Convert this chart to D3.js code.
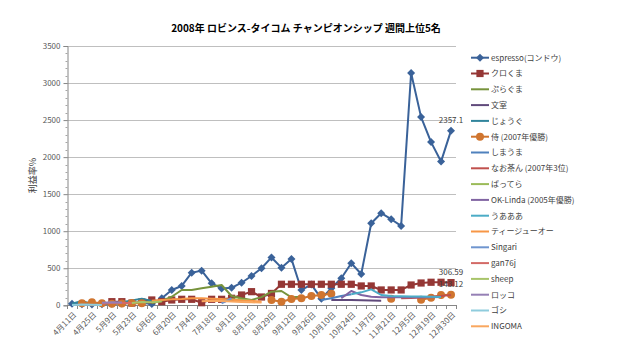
<!DOCTYPE html>
<html lang="ja">
<head>
<meta charset="utf-8">
<title>2008年 ロビンス-タイコム チャンピオンシップ 週間上位5名</title>
<script src="https://d3js.org/d3.v7.min.js"></script>
<style>
  body { margin: 0; background: #fff; }
  text { font-family: "Noto Sans CJK JP", "Noto Sans", sans-serif; }
  .title { font-size: 10px; font-weight: bold; fill: #000; }
  .axis text { font-size: 8px; fill: #595959; }
  .legend text { font-size: 8px; fill: #404040; }
  .dlabel { font-size: 8px; fill: #404040; }
</style>
</head>
<body>
<div id="chart"></div>
<script>
// categories (weekly)
const weeks = ["4月11日","4月18日","4月25日","5月2日","5月9日","5月16日","5月23日","5月30日",
  "6月6日","6月13日","6月20日","6月27日","7月4日","7月11日","7月18日","7月25日",
  "8月1日","8月8日","8月15日","8月22日","8月29日","9月5日","9月12日","9月19日",
  "9月26日","10月3日","10月10日","10月17日","10月24日","10月31日","11月7日","11月14日",
  "11月21日","11月28日","12月5日","12月12日","12月19日","12月26日","12月30日"];
const yTicks = [0, 500, 1000, 1500, 2000, 2500, 3000, 3500];

const _ = null;
const espresso = [20,15,10,15,20,25,30,35,18,95,207,261,440,468,297,227,236,305,396,500,646,508,626,207,280,90,230,365,568,423,1108,1243,1162,1072,3135,2540,2203,1940,2357.1];
const kurokuma = [_,_,_,_,49,49,30,45,72,49,72,81,81,35,81,81,95,139,184,112,160,284,284,284,284,284,284,284,284,261,261,207,207,207,274,301,311,311,306.59];
const puraguma = [_,_,_,_,_,_,_,_,30,60,116,207,207,230,251,274,126,95,72,110,184,193,108,116,_,_,_,_,_,_,_,_,_,_,_,_,_,_,_];
const bunmuro  = [_,_,_,_,35,40,45,_,_,_,_,_,_,_,_,_,_,_,_,_,_,_,_,_,_,_,72,72,70,68,65,62,_,_,_,_,_,_,_];
const jougu    = [20,60,15,10,20,40,65,90,60,_,_,_,_,_,_,_,_,_,_,_,_,_,_,_,_,_,_,_,_,_,_,_,_,_,_,_,_,_,_];
const samurai  = [_,27,40,27,20,25,30,27,_,_,_,_,_,_,_,_,_,_,_,_,72,49,85,95,126,139,155,_,_,_,_,_,90,_,_,76,103,139,143.12];
const shimauma = [_,_,_,_,_,_,_,_,_,_,_,_,_,_,_,_,_,_,_,_,_,_,_,_,_,72,95,126,150,_,_,_,_,_,_,_,_,_,_];
const naocha   = [_,_,_,_,_,_,_,_,_,_,_,_,_,_,_,_,_,_,_,_,_,_,_,_,_,_,_,_,_,_,_,_,_,95,100,105,115,125,139];
const battera  = [_,_,_,_,_,_,_,_,_,_,_,_,_,_,_,70,80,75,60,_,_,_,_,_,_,_,_,_,_,_,_,_,_,_,_,_,_,_,_];
const oklinda  = [_,_,_,_,_,_,_,_,_,_,_,_,_,_,_,_,_,_,_,_,_,_,_,_,_,_,_,95,193,139,116,110,110,108,108,110,110,112,_];
const uaaa     = [_,_,_,_,_,_,_,_,_,_,_,_,_,_,_,_,_,_,_,_,_,_,_,_,_,_,_,_,150,175,215,139,125,122,120,118,115,112,_];
const tjo      = [_,_,_,_,_,_,_,_,60,70,80,85,95,95,90,85,75,65,60,49,_,_,_,_,_,_,_,_,_,_,_,_,_,_,_,_,_,_,_];
const singari  = [_,_,_,_,_,_,_,_,_,_,_,_,_,_,_,25,95,_,_,_,_,_,_,_,_,_,_,_,_,_,_,_,_,_,_,_,_,_,_];
const gan76j   = [_,_,_,20,30,35,30,_,_,_,_,_,_,_,_,_,_,_,_,_,_,_,_,_,_,_,_,_,_,_,_,_,_,_,_,_,_,_,_];
const sheep    = [_,_,_,_,_,_,30,45,40,50,_,_,_,_,_,_,_,_,_,_,_,_,_,_,_,_,_,_,_,_,_,_,_,_,_,_,_,_,_];
const rokko    = [_,_,_,35,40,38,_,_,_,_,_,_,_,_,_,_,_,_,_,_,_,_,_,_,_,_,_,_,_,_,_,_,_,_,_,_,_,_,_];
const goshi    = [5,10,8,5,_,_,_,_,_,_,_,_,_,_,_,_,_,_,_,_,_,_,_,_,_,_,_,_,_,_,_,_,_,_,_,_,_,_,_];
const ingoma   = [_,_,_,_,_,_,_,_,_,_,_,_,_,55,60,58,50,45,40,38,_,_,_,_,_,_,_,_,_,_,_,_,_,_,_,_,_,_,_];

const seriesNames = ["espresso(コンドウ)","クロくま","ぷらぐま","文室","じょうぐ","侍 (2007年優勝)","しまうま",
  "なお茶ん (2007年3位)","ばってら","OK-Linda (2005年優勝)","うあああ","ティージューオー","Singari",
  "gan76j","sheep","ロッコ","ゴシ","INGOMA"];
const seriesValues = [espresso,kurokuma,puraguma,bunmuro,jougu,samurai,shimauma,naocha,battera,
  oklinda,uaaa,tjo,singari,gan76j,sheep,rokko,goshi,ingoma];
const seriesColors = ["#3A6299","#953735","#77933C","#604A7B","#31859C","#D0752F","#4F81BD",
  "#C0504D","#9BBB59","#8064A2","#4BACC6","#F79646","#6F95CF","#D36A66","#A8C46A","#9580B5","#8FCCDD","#F9A75F"];
const seriesMarkers = ["diamond","square",null,null,null,"circle",null,null,null,null,null,null,null,null,null,null,null,null];

const W = 626, H = 351;
const plot = { left: 67, right: 456, top: 46, bottom: 305.3 };

const svg = d3.select("#chart").append("svg")
  .attr("width", W).attr("height", H)
  .attr("viewBox", `0 0 ${W} ${H}`);
svg.append("rect").attr("width", W).attr("height", H).attr("fill", "#fff");

const x = d3.scaleBand().domain(weeks).range([plot.left, plot.right]);
const y = d3.scaleLinear().domain([0, 3500]).range([plot.bottom, plot.top]);
const cx = i => x(weeks[i]) + x.bandwidth() / 2;

// title
svg.append("text").attr("class", "title")
  .attr("x", 306).attr("y", 32).attr("text-anchor", "middle")
  .text("2008年  ロビンス-タイコム  チャンピオンシップ 週間上位5名");

// gridlines
svg.append("g").selectAll("line").data(yTicks.slice(1)).join("line")
  .attr("x1", plot.left).attr("x2", plot.right)
  .attr("y1", d => Math.round(y(d)) + 0.5).attr("y2", d => Math.round(y(d)) + 0.5)
  .attr("stroke", "#BFBFBF").attr("stroke-width", 1);

// y axis
const yAxis = svg.append("g").attr("class", "axis")
  .attr("transform", `translate(${plot.left + 0.5},0)`)
  .call(d3.axisLeft(y).tickValues(yTicks).tickSize(4).tickPadding(3).tickFormat(d3.format("d")));
yAxis.select(".domain").attr("stroke", "#868686");
yAxis.selectAll(".tick line").attr("stroke", "#868686");
// minor ticks
svg.append("g").selectAll("line").data(d3.range(100, 3500, 100).filter(v => v % 500 !== 0)).join("line")
  .attr("x1", plot.left - 1.5).attr("x2", plot.left + 0.5)
  .attr("y1", d => Math.round(y(d)) + 0.5).attr("y2", d => Math.round(y(d)) + 0.5)
  .attr("stroke", "#A6A6A6");

svg.append("text")
  .attr("transform", `translate(36,${(plot.top + plot.bottom) / 2}) rotate(-90)`)
  .attr("text-anchor", "middle").attr("font-size", 9).attr("fill", "#404040")
  .text("利益率%");

// x axis
const xg = svg.append("g").attr("class", "axis");
xg.append("line")
  .attr("x1", plot.left).attr("x2", plot.right)
  .attr("y1", Math.round(plot.bottom) + 0.5).attr("y2", Math.round(plot.bottom) + 0.5)
  .attr("stroke", "#868686");
xg.selectAll("line.tk").data(d3.range(weeks.length + 1)).join("line").attr("class", "tk")
  .attr("x1", i => Math.round(plot.left + i * x.step()) + 0.5)
  .attr("x2", i => Math.round(plot.left + i * x.step()) + 0.5)
  .attr("y1", Math.round(plot.bottom)).attr("y2", Math.round(plot.bottom) + 4)
  .attr("stroke", "#868686");
xg.selectAll("text").data(weeks.filter((d, i) => i % 2 === 0)).join("text")
  .attr("transform", d => `translate(${x(d) + x.bandwidth() / 2 + 3},${plot.bottom + 8}) rotate(-45)`)
  .attr("text-anchor", "end").attr("dy", "0.35em")
  .text(d => d);

// series
const line = d3.line()
  .defined(d => d.v !== null)
  .x(d => cx(d.i)).y(d => y(d.v));

function marker(g, type, color) {
  if (type === "diamond") {
    g.append("path").attr("d", "M0,-4L4,0L0,4L-4,0Z").attr("fill", color);
  } else if (type === "square") {
    g.append("rect").attr("x", -3.6).attr("y", -3.6).attr("width", 7.2).attr("height", 7.2).attr("fill", color);
  } else if (type === "circle") {
    g.append("circle").attr("r", 4).attr("fill", color);
  }
}

const sg = svg.append("g");
seriesValues.forEach((vals, k) => {
  const pts = vals.map((v, i) => ({ i, v }));
  sg.append("path").datum(pts)
    .attr("d", line).attr("fill", "none")
    .attr("stroke", seriesColors[k]).attr("stroke-width", 2)
    .attr("stroke-linejoin", "round");
  if (seriesMarkers[k]) {
    pts.filter(p => p.v !== null).forEach(p => {
      const m = sg.append("g").attr("transform", `translate(${cx(p.i)},${y(p.v)})`);
      marker(m, seriesMarkers[k], seriesColors[k]);
    });
  }
});

// data labels on last points
[[espresso, "2357.1"], [kurokuma, "306.59"], [samurai, "143.12"]].forEach(([vals, lbl]) => {
  const i = vals.length - 1;
  svg.append("text").attr("class", "dlabel")
    .attr("x", cx(i)).attr("y", y(vals[i]) - 8)
    .attr("text-anchor", "middle").text(lbl);
});

// legend
const lg = svg.append("g").attr("class", "legend");
seriesNames.forEach((name, k) => {
  const ly = 57.7 + k * 15.8;
  const g = lg.append("g").attr("transform", `translate(0,${ly})`);
  g.append("line").attr("x1", 471).attr("x2", 489).attr("y1", 0).attr("y2", 0)
    .attr("stroke", seriesColors[k]).attr("stroke-width", 2);
  if (seriesMarkers[k]) {
    const m = g.append("g").attr("transform", "translate(480,0)");
    marker(m, seriesMarkers[k], seriesColors[k]);
  }
  g.append("text").attr("x", 491).attr("y", 0).attr("dy", "0.35em").text(name);
});
</script>
</body>
</html>
